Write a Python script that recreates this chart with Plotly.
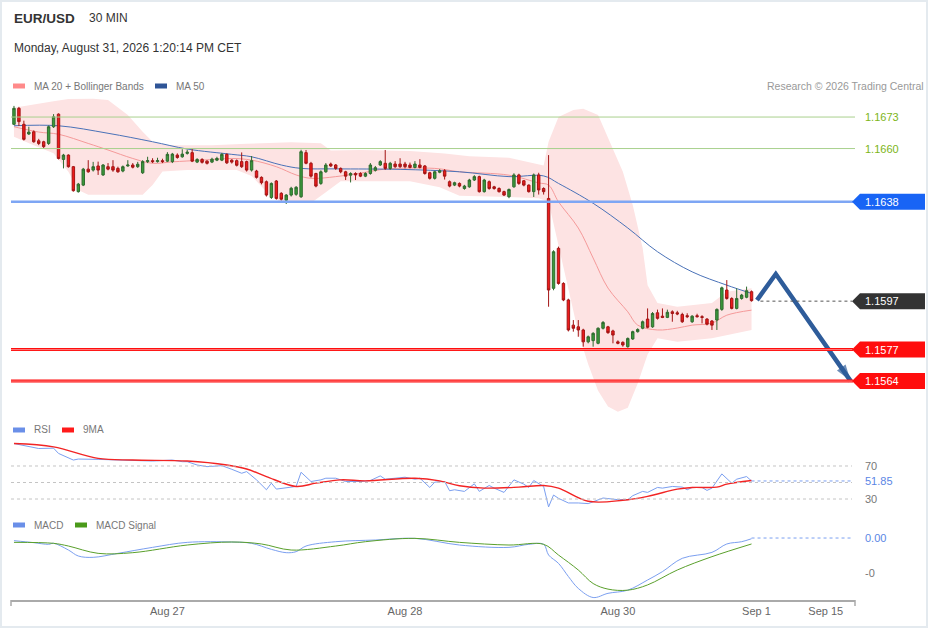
import plotly.graph_objects as go

# ---------------- data: EUR/USD 30 min candles (index 0 .. 149) ----------------
opens = [
    1.16700, 1.16766, 1.16700, 1.16660, 1.16669, 1.16632, 1.16628, 1.16621, 1.16690, 1.16742,
    1.16555, 1.16573, 1.16525, 1.16422, 1.16449, 1.16515, 1.16511, 1.16528, 1.16491, 1.16525,
    1.16525, 1.16518, 1.16507, 1.16528, 1.16532, 1.16525, 1.16500, 1.16546, 1.16550, 1.16546,
    1.16550, 1.16548, 1.16546, 1.16573, 1.16566, 1.16580, 1.16583, 1.16544, 1.16555, 1.16548,
    1.16544, 1.16552, 1.16552, 1.16576, 1.16552, 1.16550, 1.16546, 1.16546, 1.16511, 1.16507,
    1.16481, 1.16463, 1.16398, 1.16466, 1.16415, 1.16387, 1.16408, 1.16411, 1.16401, 1.16583,
    1.16539, 1.16497, 1.16456, 1.16504, 1.16536, 1.16532, 1.16518, 1.16504, 1.16490, 1.16497,
    1.16497, 1.16486, 1.16497, 1.16510, 1.16532, 1.16539, 1.16518, 1.16536, 1.16536, 1.16536,
    1.16532, 1.16522, 1.16532, 1.16528, 1.16500, 1.16477, 1.16502, 1.16508, 1.16463, 1.16449,
    1.16456, 1.16435, 1.16442, 1.16470, 1.16484, 1.16422, 1.16463, 1.16442, 1.16435, 1.16422,
    1.16401, 1.16442, 1.16491, 1.16467, 1.16449, 1.16422, 1.16491, 1.16435, 1.16394, 1.16023,
    1.16188, 1.16043, 1.15975, 1.15871, 1.15864, 1.15851, 1.15802, 1.15807, 1.15796, 1.15858,
    1.15864, 1.15847, 1.15802, 1.15800, 1.15782, 1.15814, 1.15844, 1.15858, 1.15896, 1.15864,
    1.15922, 1.15908, 1.15903, 1.15926, 1.15922, 1.15915, 1.15910, 1.15885, 1.15910, 1.15906,
    1.15896, 1.15888, 1.15892, 1.15936, 1.16016, 1.15981, 1.15940, 1.15981, 1.15986, 1.16009,
]
highs = [
    1.16776, 1.16772, 1.16715, 1.16690, 1.16675, 1.16640, 1.16632, 1.16695, 1.16742, 1.16745,
    1.16578, 1.16576, 1.16528, 1.16458, 1.16520, 1.16552, 1.16545, 1.16546, 1.16536, 1.16540,
    1.16552, 1.16525, 1.16530, 1.16552, 1.16540, 1.16545, 1.16552, 1.16566, 1.16560, 1.16562,
    1.16558, 1.16585, 1.16582, 1.16580, 1.16597, 1.16595, 1.16598, 1.16560, 1.16560, 1.16552,
    1.16562, 1.16566, 1.16582, 1.16580, 1.16556, 1.16555, 1.16584, 1.16550, 1.16569, 1.16512,
    1.16485, 1.16468, 1.16460, 1.16470, 1.16420, 1.16412, 1.16442, 1.16445, 1.16595, 1.16594,
    1.16545, 1.16500, 1.16510, 1.16540, 1.16542, 1.16536, 1.16522, 1.16508, 1.16502, 1.16502,
    1.16502, 1.16502, 1.16540, 1.16528, 1.16552, 1.16594, 1.16545, 1.16548, 1.16560, 1.16545,
    1.16542, 1.16548, 1.16556, 1.16532, 1.16504, 1.16508, 1.16515, 1.16515, 1.16468, 1.16463,
    1.16460, 1.16450, 1.16475, 1.16490, 1.16488, 1.16475, 1.16468, 1.16446, 1.16440, 1.16426,
    1.16435, 1.16498, 1.16496, 1.16470, 1.16452, 1.16497, 1.16500, 1.16440, 1.16573, 1.16180,
    1.16195, 1.16048, 1.15980, 1.15892, 1.15892, 1.15856, 1.15828, 1.15842, 1.15862, 1.15888,
    1.15868, 1.15852, 1.15808, 1.15804, 1.15820, 1.15848, 1.15858, 1.15890, 1.15940, 1.15925,
    1.15935, 1.15940, 1.15935, 1.15932, 1.15930, 1.15922, 1.15920, 1.15912, 1.15918, 1.15912,
    1.15900, 1.15892, 1.15940, 1.16030, 1.16057, 1.15986, 1.16023, 1.16000, 1.16030, 1.16014,
]
lows = [
    1.16697, 1.16693, 1.16633, 1.16656, 1.16624, 1.16614, 1.16600, 1.16615, 1.16685, 1.16555,
    1.16518, 1.16521, 1.16422, 1.16418, 1.16445, 1.16500, 1.16505, 1.16491, 1.16487, 1.16510,
    1.16504, 1.16500, 1.16502, 1.16525, 1.16518, 1.16520, 1.16495, 1.16540, 1.16540, 1.16542,
    1.16540, 1.16544, 1.16540, 1.16558, 1.16562, 1.16575, 1.16544, 1.16540, 1.16538, 1.16534,
    1.16540, 1.16548, 1.16548, 1.16536, 1.16538, 1.16526, 1.16520, 1.16505, 1.16505, 1.16476,
    1.16452, 1.16402, 1.16392, 1.16389, 1.16385, 1.16371, 1.16402, 1.16405, 1.16396, 1.16535,
    1.16480, 1.16440, 1.16450, 1.16500, 1.16524, 1.16512, 1.16498, 1.16470, 1.16460, 1.16470,
    1.16482, 1.16482, 1.16492, 1.16505, 1.16528, 1.16512, 1.16512, 1.16520, 1.16520, 1.16518,
    1.16518, 1.16518, 1.16518, 1.16492, 1.16472, 1.16472, 1.16498, 1.16472, 1.16440, 1.16445,
    1.16440, 1.16430, 1.16438, 1.16466, 1.16418, 1.16418, 1.16430, 1.16430, 1.16418, 1.16404,
    1.16395, 1.16438, 1.16450, 1.16444, 1.16418, 1.16400, 1.16410, 1.16410, 1.15947, 1.16015,
    1.16038, 1.15970, 1.15845, 1.15844, 1.15823, 1.15782, 1.15796, 1.15782, 1.15792, 1.15853,
    1.15835, 1.15796, 1.15792, 1.15782, 1.15778, 1.15810, 1.15840, 1.15854, 1.15858, 1.15860,
    1.15894, 1.15900, 1.15900, 1.15885, 1.15912, 1.15880, 1.15900, 1.15880, 1.15902, 1.15878,
    1.15870, 1.15851, 1.15851, 1.15930, 1.15976, 1.15936, 1.15936, 1.15976, 1.15982, 1.15968,
]
closes = [
    1.16766, 1.16711, 1.16638, 1.16668, 1.16628, 1.16621, 1.16608, 1.16690, 1.16731, 1.16559,
    1.16573, 1.16525, 1.16426, 1.16453, 1.16515, 1.16504, 1.16525, 1.16511, 1.16532, 1.16515,
    1.16511, 1.16504, 1.16525, 1.16532, 1.16523, 1.16535, 1.16546, 1.16550, 1.16546, 1.16550,
    1.16546, 1.16576, 1.16577, 1.16563, 1.16577, 1.16585, 1.16548, 1.16555, 1.16543, 1.16539,
    1.16556, 1.16559, 1.16576, 1.16541, 1.16544, 1.16531, 1.16525, 1.16511, 1.16550, 1.16481,
    1.16459, 1.16408, 1.16456, 1.16394, 1.16391, 1.16408, 1.16436, 1.16440, 1.16587, 1.16539,
    1.16486, 1.16445, 1.16504, 1.16532, 1.16528, 1.16518, 1.16504, 1.16486, 1.16497, 1.16491,
    1.16486, 1.16497, 1.16532, 1.16521, 1.16546, 1.16518, 1.16539, 1.16525, 1.16525, 1.16525,
    1.16522, 1.16536, 1.16522, 1.16497, 1.16477, 1.16504, 1.16508, 1.16486, 1.16445, 1.16459,
    1.16445, 1.16445, 1.16470, 1.16484, 1.16422, 1.16470, 1.16435, 1.16435, 1.16422, 1.16408,
    1.16431, 1.16491, 1.16456, 1.16449, 1.16422, 1.16491, 1.16429, 1.16422, 1.16016, 1.16174,
    1.16043, 1.15975, 1.15851, 1.15858, 1.15851, 1.15802, 1.15823, 1.15837, 1.15858, 1.15882,
    1.15840, 1.15830, 1.15796, 1.15789, 1.15816, 1.15844, 1.15853, 1.15885, 1.15862, 1.15919,
    1.15899, 1.15903, 1.15924, 1.15919, 1.15917, 1.15885, 1.15906, 1.15908, 1.15906, 1.15903,
    1.15875, 1.15871, 1.15936, 1.16025, 1.15981, 1.15940, 1.15981, 1.15995, 1.16013, 1.15972,
]
candle_idx = list(range(len(closes)))

# MA 20 + Bollinger Bands, MA 50 (read at candle indices)
ma20_idx = [0, 5, 9, 15, 19, 24, 28, 32, 38, 44, 48, 53, 57, 60, 65, 71, 75, 85, 90, 100,
            106, 108, 110, 114, 117, 120, 124, 126, 130, 134, 137, 141, 144, 149]
ma20 = [1.16690, 1.16668, 1.16659, 1.16621, 1.16594, 1.16559, 1.16539, 1.16545, 1.16552, 1.16559,
        1.16552, 1.16525, 1.16491, 1.16477, 1.16484, 1.16502, 1.16515, 1.16518, 1.16504, 1.16490,
        1.16458, 1.16449, 1.16380, 1.16272, 1.16148, 1.16024, 1.15926, 1.15871, 1.15851, 1.15859,
        1.15871, 1.15879, 1.15912, 1.15933]

bb_up_idx = [0, 4, 8, 11, 16, 19, 23, 26, 28, 31, 40, 47, 52, 56, 62, 64, 70, 80, 87, 92,
             100, 104, 107, 108, 110, 113, 115, 118, 120, 123, 125, 127, 128, 130, 134, 141, 144, 149]
bb_up = [1.16768, 1.16780, 1.16795, 1.16805, 1.16806, 1.16800, 1.16738, 1.16669, 1.16628, 1.16614,
         1.16614, 1.16620, 1.16622, 1.16626, 1.16622, 1.16592, 1.16594, 1.16590, 1.16580, 1.16568,
         1.16562, 1.16545, 1.16530, 1.16628, 1.16730, 1.16759, 1.16764, 1.16738, 1.16642, 1.16504,
         1.16367, 1.16189, 1.16036, 1.15962, 1.15947, 1.15962, 1.16009, 1.16023]

bb_lo_idx = [0, 4, 8, 11, 13, 15, 26, 28, 30, 35, 45, 48, 51, 54, 60, 63, 66, 80, 86, 90,
             100, 106, 108, 110, 112, 114, 116, 118, 120, 122, 124, 126, 128, 130, 134, 141, 149]
bb_lo = [1.16649, 1.16614, 1.16581, 1.16504, 1.16429, 1.16409, 1.16409, 1.16449, 1.16505, 1.16511,
         1.16511, 1.16487, 1.16422, 1.16375, 1.16375, 1.16420, 1.16465, 1.16465, 1.16440, 1.16405,
         1.16400, 1.16395, 1.16380, 1.16200, 1.16020, 1.15840, 1.15710, 1.15600, 1.15535, 1.15513,
         1.15530, 1.15630, 1.15750, 1.15817, 1.15802, 1.15817, 1.15851]

ma50_idx = [0, 9, 19, 28, 35, 44, 48, 54, 58, 65, 78, 90, 100, 107, 110, 117, 124, 130, 137, 144, 149]
ma50 = [1.16694, 1.16694, 1.16663, 1.16628, 1.16598, 1.16576, 1.16566, 1.16532, 1.16518, 1.16516,
        1.16514, 1.16504, 1.16484, 1.16487, 1.16456, 1.16374, 1.16272, 1.16174, 1.16091, 1.16036,
        1.16002]

# RSI and its 9 period MA
rsi_idx = [0, 3, 5, 8, 9, 12, 13, 17, 21, 28,
           32, 34, 35, 37, 39, 42, 44, 46, 47, 49,
           51, 52, 53, 55, 57, 58, 60, 62, 63, 65,
           67, 70, 72, 74, 75, 77, 79, 81, 82, 84,
           85, 87, 88, 89, 91, 93, 94, 96, 97, 99,
           101, 103, 104, 105, 107, 108, 109, 110, 112, 114,
           116, 119, 122, 124, 125, 127, 128, 130, 131, 133,
           135, 136, 137, 139, 140, 141, 143, 145, 146, 148,
           149]
rsi = [97.2, 93.2, 91.2, 91.6, 85.2, 77.2, 78.4, 78.0, 77.2, 76.0,
       77.2, 75.2, 75.2, 71.2, 69.2, 70.4, 66.0, 61.2, 63.2, 53.2,
       41.2, 49.2, 42.0, 43.2, 45.2, 62.4, 51.2, 53.2, 55.2, 55.2,
       51.2, 51.2, 52.4, 58.0, 54.0, 55.2, 56.4, 54.0, 55.2, 44.0,
       50.4, 51.2, 40.0, 41.2, 39.2, 48.4, 39.2, 46.4, 43.2, 38.0,
       53.2, 48.0, 44.0, 52.4, 45.2, 20.4, 34.8, 30.8, 25.2, 25.2,
       24.4, 31.2, 29.2, 29.2, 34.0, 39.2, 38.0, 44.0, 43.2, 45.2,
       44.4, 41.2, 44.0, 44.0, 40.4, 43.2, 60.4, 49.2, 54.0, 57.2,
       51.85]
ma9_idx = [0, 8, 17, 24, 35, 43, 47, 51, 57, 61, 66, 71, 81, 86, 90, 95, 102, 107, 110, 116,
           123, 128, 134, 137, 142, 144, 149]
ma9 = [97.2, 93.2, 79.2, 77.2, 76.0, 71.2, 66.4, 57.2, 45.2, 49.2, 53.2, 52.0, 55.2, 52.0, 46.0,
       43.2, 44.4, 46.4, 43.2, 27.2, 28.4, 33.2, 42.0, 44.0, 44.4, 48.0, 52.4]

# MACD and signal
macd_idx = [0, 4, 7, 8, 11, 13, 16, 21, 28, 35, 44, 48, 52, 55, 57, 59, 65, 73, 81, 90,
            100, 104, 107, 108, 110, 112, 114, 117, 120, 124, 128, 131, 135, 141, 144, 147, 149]
macd = [-0.000076, -0.000133, -0.00018, -0.00015, -0.000343, -0.000514, -0.000552, -0.000438,
        -0.000267, -0.000124, -0.000114, -0.000152, -0.000324, -0.000419, -0.00039, -0.000229,
        -0.000105, -0.000057, -0.00001, -0.0002, -0.000267, -0.00018, -0.00018, -0.000486,
        -0.000724, -0.0011, -0.00144, -0.0017, -0.00158, -0.00149, -0.0012, -0.00096, -0.00058,
        -0.00041, -0.00017, -0.000105, -0.00002]
sig_idx = [0, 8, 11, 17, 24, 35, 44, 50, 56, 65, 71, 81, 90, 100, 107, 110, 114, 117, 120, 124,
           128, 134, 141, 149]
sig = [-0.000124, -0.000152, -0.000229, -0.000438, -0.000419, -0.0002, -0.000114, -0.00017,
       -0.000343, -0.000229, -0.000105, -0.00001, -0.000124, -0.0002, -0.00018, -0.000486,
       -0.000914, -0.0013, -0.00146, -0.00149, -0.00134, -0.000914, -0.000533, -0.00017]

# levels and forecast path
resist_levels = [1.1673, 1.1660]
pivot_level = 1.1638
last_price = 1.1597
support_levels = [1.1577, 1.1564]
rsi_last = 51.85
macd_last_text = "0.00"
arrow_x = [150.1, 153.9, 169.0]
arrow_y = [1.15974, 1.16082, 1.15641]

tick_pos = [31, 79, 122, 150, 164]
tick_text = ["Aug 27", "Aug 28", "Aug 30", "Sep 1", "Sep 15"]

# ---------------- layout helpers (pixel -> paper) ----------------
W, H = 929, 629
ML, MR, MT, MB = 11, 74, 95, 29


def px(x):
    return (x - ML) / (W - ML - MR)


def py(y):
    return (H - MB - y) / (H - MT - MB)


FONT = "Liberation Sans, Arial, sans-serif"
GREEN_LINE = "#a9d18e"
GREEN_TXT = "#7cb518"
BLUE_LVL = "#7ea6f4"
BLUE_BOX = "#1864f5"
RED = "#ff0d0d"
RSI_BLUE = "#7b9ff0"
X_RANGE = [-0.6, 169.9]
PRICE_RANGE = [1.15500, 1.16821]
X_END = 169.3

fig = go.Figure()

# Bollinger band area and moving averages (main price subplot)
fig.add_trace(go.Scatter(
    x=bb_up_idx + bb_lo_idx[::-1], y=bb_up + bb_lo[::-1],
    fill="toself", fillcolor="#fde3e3", line=dict(width=0), mode="lines",
    hoverinfo="skip", showlegend=False))
fig.add_trace(go.Scatter(x=ma20_idx, y=ma20, mode="lines", line=dict(color="#f59a9a", width=1, shape="spline"),
                         hoverinfo="skip", showlegend=False))
fig.add_trace(go.Scatter(x=ma50_idx, y=ma50, mode="lines", line=dict(color="#4a72b8", width=1, shape="spline"),
                         hoverinfo="skip", showlegend=False))

# candles on an overlaid subplot so they sit above the band fill
fig.add_trace(go.Candlestick(
    x=candle_idx, open=opens, high=highs, low=lows, close=closes,
    xaxis="x2", yaxis="y4",
    increasing=dict(line=dict(color="#2f6b2f", width=1), fillcolor="#3a9a3a"),
    decreasing=dict(line=dict(color="#a31515", width=1), fillcolor="#ee1b1b"),
    whiskerwidth=0, showlegend=False))

# forecast arrow
fig.add_trace(go.Scatter(
    x=arrow_x, y=arrow_y, mode="lines+markers", xaxis="x2", yaxis="y4",
    line=dict(color="#2e5c9a", width=4.5),
    marker=dict(size=[0, 0, 17], symbol="arrow", angleref="previous", color="#2e5c9a",
                line=dict(width=0)),
    hoverinfo="skip", showlegend=False))

# RSI panel
fig.add_trace(go.Scatter(x=rsi_idx, y=rsi, mode="lines", line=dict(color=RSI_BLUE, width=1),
                         yaxis="y2", hoverinfo="skip", showlegend=False))
fig.add_trace(go.Scatter(x=ma9_idx, y=ma9, mode="lines", line=dict(color="#f22424", width=1.4, shape="spline"),
                         yaxis="y2", hoverinfo="skip", showlegend=False))

# MACD panel
fig.add_trace(go.Scatter(x=macd_idx, y=macd, mode="lines", line=dict(color=RSI_BLUE, width=1, shape="spline"),
                         yaxis="y3", hoverinfo="skip", showlegend=False))
fig.add_trace(go.Scatter(x=sig_idx, y=sig, mode="lines", line=dict(color="#5aa02c", width=1, shape="spline"),
                         yaxis="y3", hoverinfo="skip", showlegend=False))

shapes = []
annotations = []

# outer frame
shapes.append(dict(type="rect", xref="paper", yref="paper", x0=px(1), x1=px(927), y0=py(627), y1=py(1),
                   line=dict(color="#e4eaef", width=2), layer="below"))

# resistance levels
for lvl in resist_levels:
    shapes.append(dict(type="line", xref="paper", yref="y", x0=0, x1=1, y0=lvl, y1=lvl,
                       line=dict(color=GREEN_LINE, width=1)))
    annotations.append(dict(x=px(863), y=lvl, xref="paper", yref="y", text=f"{lvl:.4f}",
                            showarrow=False, xanchor="left", yanchor="middle",
                            font=dict(color=GREEN_TXT, size=11, family=FONT)))

# pivot
shapes.append(dict(type="line", xref="paper", yref="y", x0=0, x1=px(853), y0=pivot_level, y1=pivot_level,
                   line=dict(color=BLUE_LVL, width=2.5)))
# supports
for lvl in support_levels:
    shapes.append(dict(type="line", xref="paper", yref="y", x0=0, x1=px(853), y0=lvl, y1=lvl,
                       line=dict(color=RED, width=3)))
    shapes.append(dict(type="line", xref="paper", yref="y", x0=0, x1=px(853), y0=lvl, y1=lvl,
                       line=dict(color="#ffb3b3", width=0.7)))
# last price dotted
shapes.append(dict(type="line", xref="x", yref="y", x0=150.8, x1=X_END, y0=last_price, y1=last_price,
                   line=dict(color="#555555", width=1, dash="dot")))

# price tags
half = 8 / 24220
for lvl, col in [(pivot_level, BLUE_BOX), (last_price, "#333333")] + [(s, RED) for s in support_levels]:
    tip, bl, br = px(852), px(860), px(925)
    path = (f"M {tip},{lvl} L {bl},{lvl + half} L {br},{lvl + half} "
            f"L {br},{lvl - half} L {bl},{lvl - half} Z")
    shapes.append(dict(type="path", xref="paper", yref="y", path=path, fillcolor=col,
                       line=dict(width=0)))
    annotations.append(dict(x=px(863), y=lvl, xref="paper", yref="y", text=f"{lvl:.4f}",
                            showarrow=False, xanchor="left", yanchor="middle",
                            font=dict(color="white", size=11, family=FONT)))

# RSI guide lines
for v in [70, 50, 30]:
    shapes.append(dict(type="line", xref="x", yref="y2", x0=-0.6, x1=X_END, y0=v, y1=v,
                       line=dict(color="#c4c4c4", width=1, dash="dot")))
shapes.append(dict(type="line", xref="x", yref="y2", x0=149, x1=X_END, y0=rsi_last, y1=rsi_last,
                   line=dict(color=RSI_BLUE, width=1, dash="dot")))
for v in [70, 30]:
    annotations.append(dict(x=px(863), y=v, xref="paper", yref="y2", text=str(v), showarrow=False,
                            xanchor="left", yanchor="middle", font=dict(color="#777777", size=11, family=FONT)))
annotations.append(dict(x=px(863), y=rsi_last, xref="paper", yref="y2", text=f"{rsi_last:.2f}",
                        showarrow=False, xanchor="left", yanchor="middle",
                        font=dict(color="#5b86e5", size=11, family=FONT)))

# MACD guide
shapes.append(dict(type="line", xref="x", yref="y3", x0=149, x1=X_END, y0=0, y1=0,
                   line=dict(color=RSI_BLUE, width=1, dash="dot")))
annotations.append(dict(x=px(863), y=0, xref="paper", yref="y3", text=macd_last_text, showarrow=False,
                        xanchor="left", yanchor="middle", font=dict(color="#5b86e5", size=11, family=FONT)))
annotations.append(dict(x=px(863), y=-0.001, xref="paper", yref="y3", text="-0", showarrow=False,
                        xanchor="left", yanchor="middle", font=dict(color="#777777", size=11, family=FONT)))

# axis end ticks
for xe in [11, 855]:
    shapes.append(dict(type="line", xref="paper", yref="paper", x0=px(xe), x1=px(xe), y0=py(600), y1=py(606),
                       line=dict(color="#aaaaaa", width=1.5)))

# titles
annotations.append(dict(x=px(12), y=py(18), xref="paper", yref="paper", text="<b>EUR/USD</b>",
                        showarrow=False, xanchor="left", yanchor="middle",
                        font=dict(color="#333333", size=13.5, family=FONT)))
annotations.append(dict(x=px(87), y=py(18), xref="paper", yref="paper", text="30 MIN",
                        showarrow=False, xanchor="left", yanchor="middle",
                        font=dict(color="#333333", size=12, family=FONT)))
annotations.append(dict(x=px(12), y=py(48), xref="paper", yref="paper",
                        text="Monday, August 31, 2026 1:20:14 PM CET",
                        showarrow=False, xanchor="left", yanchor="middle",
                        font=dict(color="#333333", size=12, family=FONT)))
annotations.append(dict(x=px(926), y=py(86), xref="paper", yref="paper",
                        text="Research © 2026 Trading Central",
                        showarrow=False, xanchor="right", yanchor="middle",
                        font=dict(color="#999999", size=10.5, family=FONT)))

# legends (swatch + label)
legend_items = [
    (13, 86, "#ff8a8a", "MA 20 + Bollinger Bands"),
    (155, 86, "#2f5597", "MA 50"),
    (13, 430, "#6a8fe8", "RSI"),
    (62, 430, "#ff1a1a", "9MA"),
    (13, 525, "#6a8fe8", "MACD"),
    (75, 525, "#4a9a1a", "MACD Signal"),
]
for x0, yc, col, label in legend_items:
    shapes.append(dict(type="rect", xref="paper", yref="paper", x0=px(x0), x1=px(x0 + 12),
                       y0=py(yc + 2.5), y1=py(yc - 2.5), fillcolor=col, line=dict(width=0)))
    annotations.append(dict(x=px(x0 + 19), y=py(yc), xref="paper", yref="paper", text=label,
                            showarrow=False, xanchor="left", yanchor="middle",
                            font=dict(color="#777777", size=10, family=FONT)))

price_domain = [py(415), 1]
fig.update_layout(
    width=W, height=H, autosize=False,
    margin=dict(l=ML, r=MR, t=MT, b=MB),
    paper_bgcolor="white", plot_bgcolor="white",
    showlegend=False,
    font=dict(family=FONT),
    xaxis=dict(domain=[0, 1], range=X_RANGE, anchor="y3",
               showline=True, linecolor="#aaaaaa", linewidth=2,
               tickvals=tick_pos, ticktext=tick_text, ticks="",
               tickfont=dict(color="#666666", size=11, family=FONT),
               showgrid=False, zeroline=False, rangeslider=dict(visible=False)),
    xaxis2=dict(domain=[0, 1], range=X_RANGE, overlaying="x", anchor="y4", visible=False,
                rangeslider=dict(visible=False)),
    yaxis=dict(domain=price_domain, range=PRICE_RANGE, visible=False),
    yaxis4=dict(domain=price_domain, range=PRICE_RANGE, overlaying="y", anchor="x2", visible=False),
    yaxis2=dict(domain=[py(510), py(440)], range=[16.67, 101.5], visible=False),
    yaxis3=dict(domain=[0, py(530)], range=[-0.001771, 0.000229], visible=False),
    shapes=shapes,
    annotations=annotations,
)

fig.write_html("out.html", config={"displayModeBar": False},
               post_script="document.body.style.margin='0px';")
